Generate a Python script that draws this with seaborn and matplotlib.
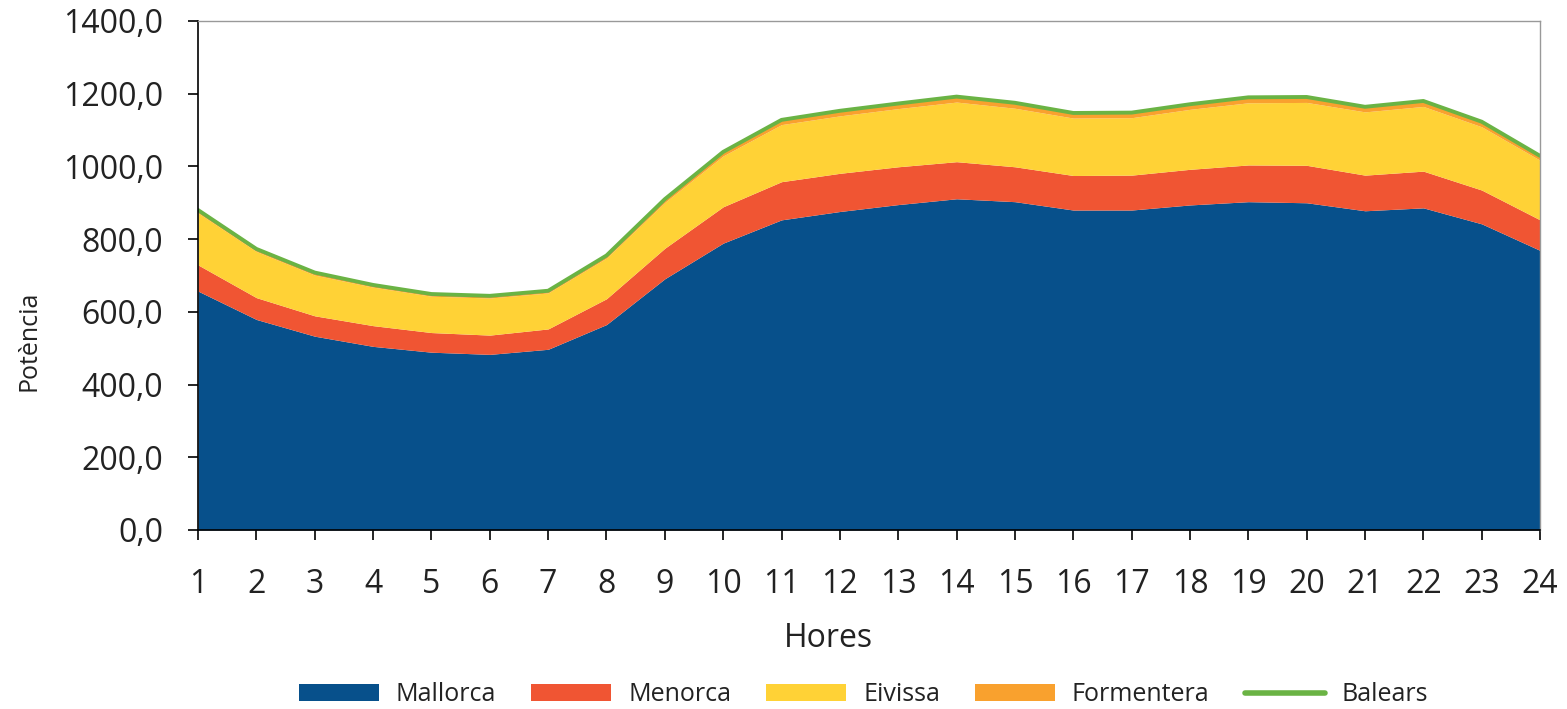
import numpy as np
import pandas as pd
import matplotlib
matplotlib.use("Agg")
import matplotlib.pyplot as plt
from matplotlib.patches import Patch
from matplotlib.lines import Line2D
from matplotlib.ticker import FuncFormatter, MultipleLocator
import seaborn as sns

# Hourly demand per island (MW)
hores = list(range(1, 25))
mallorca = [657, 579, 533, 505, 489, 483, 497, 565, 691, 789, 853, 876,
            895, 911, 903, 880, 880, 894, 903, 900, 878, 886, 842, 769]
menorca = [72, 60, 56, 57, 54, 53, 56, 71, 84, 100, 105, 105,
           104, 102, 96, 95, 96, 98, 101, 103, 98, 101, 93, 84]
eivissa = [143, 127, 112, 106, 100, 102, 99, 112, 126, 140, 157, 158,
           160, 164, 161, 158, 158, 165, 171, 173, 174, 178, 174, 164]
formentera = [8, 7, 7, 6, 6, 6, 6, 7, 9, 11, 13, 14,
              14, 15, 15, 14, 14, 14, 15, 15, 14, 15, 14, 12]

series_names = ["Mallorca", "Menorca", "Eivissa", "Formentera", "Balears"]
colors = ["#07508B", "#F05533", "#FFD236", "#F9A12E", "#6AB344"]

df = pd.DataFrame({"Hores": hores, "Mallorca": mallorca, "Menorca": menorca,
                   "Eivissa": eivissa, "Formentera": formentera})
df["Balears"] = df[["Mallorca", "Menorca", "Eivissa", "Formentera"]].sum(axis=1)

sns.set_style("white")
plt.rcParams["font.family"] = ["Open Sans", "DejaVu Sans"]

fig = plt.figure(figsize=(15.67, 7.09), dpi=100)
ax = fig.add_axes([0.1264, 0.2525, 0.8564, 0.7179])

ax.stackplot(df["Hores"], df["Mallorca"], df["Menorca"], df["Eivissa"],
             df["Formentera"], colors=colors[:4], linewidth=0)
sns.lineplot(data=df, x="Hores", y="Balears", ax=ax, color=colors[4],
             linewidth=2.8, legend=False)

ax.set_xlim(1, 24)
ax.set_ylim(0, 1400)
ax.set_xticks(hores)
ax.yaxis.set_major_locator(MultipleLocator(200))
ax.yaxis.set_major_formatter(FuncFormatter(lambda v, p: f"{v:.1f}".replace(".", ",")))

ax.tick_params(axis="both", which="major", direction="out", length=7.2,
               width=1.2, color="black", labelsize=23, labelcolor="#222222",
               bottom=True, left=True)
ax.tick_params(axis="y", pad=18)
ax.tick_params(axis="x", pad=20)

for side in ["left", "bottom"]:
    ax.spines[side].set_color("black")
    ax.spines[side].set_linewidth(1.2)
for side in ["top", "right"]:
    ax.spines[side].set_color("#999999")
    ax.spines[side].set_linewidth(1.0)

ax.set_xlabel("Hores", fontsize=23, color="#222222")
ax.set_ylabel("Potència", fontsize=18, color="#222222")
ax.xaxis.set_label_coords(0.470, -0.181)
ax.yaxis.set_label_coords(-0.117, 0.371)

handles = [Patch(facecolor=c, edgecolor="none") for c in colors[:4]]
handles.append(Line2D([0], [0], color=colors[4], linewidth=4))
fig.legend(handles, series_names, loc="center", bbox_to_anchor=(0.551, 0.02),
           ncol=5, frameon=False, fontsize=18, handlelength=3.2,
           handleheight=0.64, columnspacing=1.4, handletextpad=0.68,
           labelcolor="#222222")

fig.savefig("out.png", dpi=100)
